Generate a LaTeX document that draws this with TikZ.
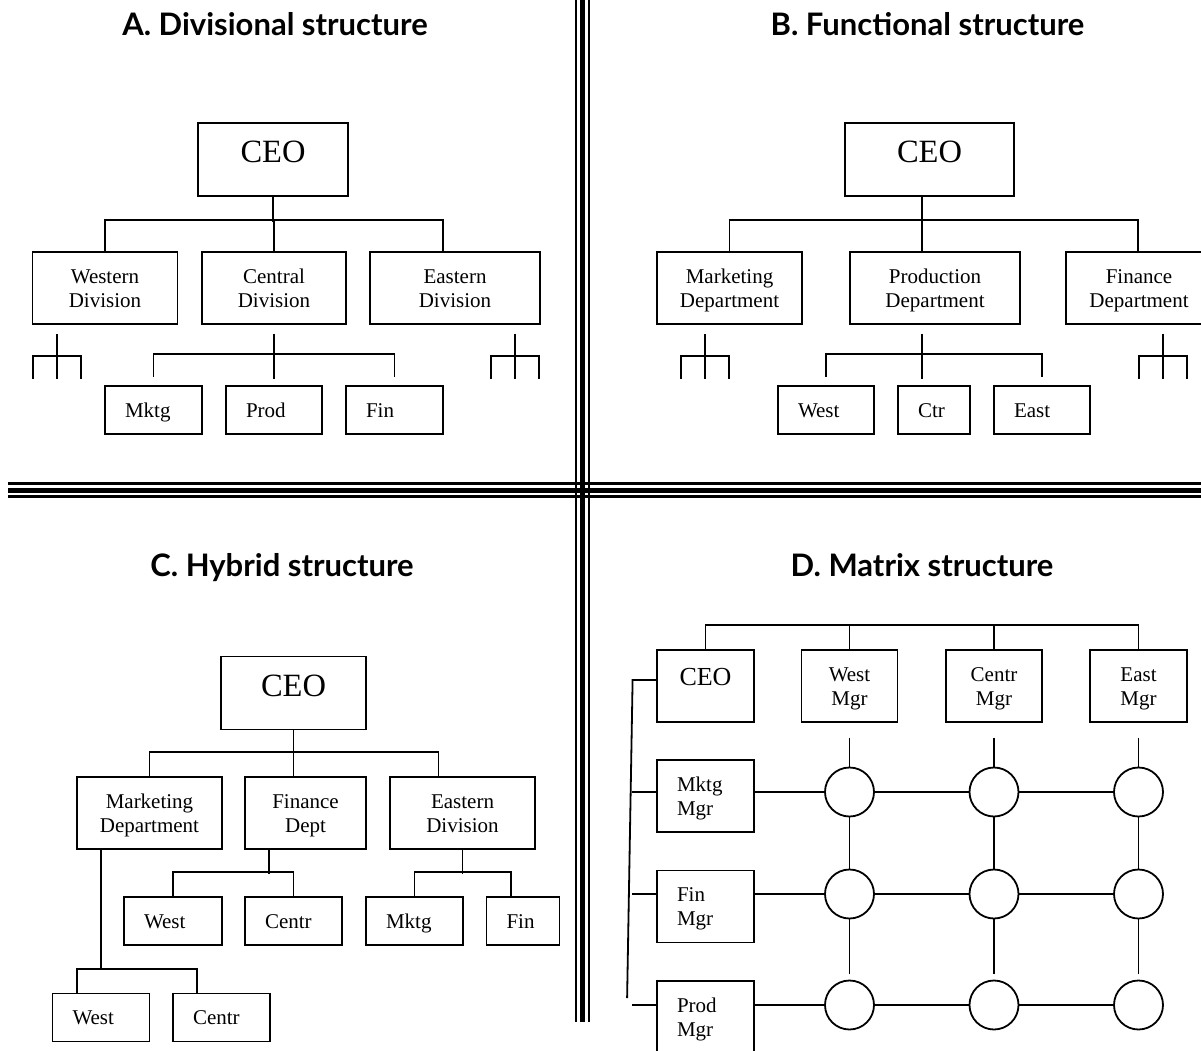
\documentclass[tikz,border=0pt]{standalone}
\usepackage{fontspec}
\setmainfont{Liberation Serif}
\newfontfamily\titlefont{Lato}
\usetikzlibrary{calc}

% small fork with free ends under a box: #1 is the top of its stub
\def\freefork#1{\draw #1 -- ++(0,45) ++(-24,0) -- ++(0,-23) -- ++(48,0) -- ++(0,23);}

\tikzset{
  box/.style={draw, inner sep=0pt, align=center, minimum height=72pt,
    text height=38pt, text depth=0pt, font=\fontsize{21}{24}\selectfont},
  ceobox/.style={box, minimum height=73pt, text height=21.5pt, text depth=15pt,
    font=\fontsize{32.5}{36}\selectfont},
  leafbox/.style={box, minimum height=48pt, inner xsep=20pt, text width=#1,
    align=left, text height=14pt, text depth=0pt},
  rowbox/.style={box, inner xsep=20pt, text width=#1, align=left,
    text height=14pt, text depth=24pt},
  hub/.style={draw, circle, minimum size=49pt, inner sep=0pt},
  heading/.style={font=\titlefont\bfseries\fontsize{31}{36}\selectfont,
    text height=22pt, text depth=0pt},
  thinrule/.style={line width=2.3pt},
  thickrule/.style={line width=5pt},
}

\begin{document}
\begin{tikzpicture}[x=1pt, y=-1pt, line width=1.8pt]
  \useasboundingbox (0,0) rectangle (1201,1051);

  %%%%% separators %%%%%
  \draw[thinrule] (576.2,0) -- (576.2,1022);
  \draw[thickrule] (582.5,0) -- (582.5,1022);
  \draw[thinrule] (588.8,0) -- (588.8,1022);
  \draw[thinrule] (8,483.5) -- (1201,483.5);
  \draw[thickrule] (8,490) -- (1201,490);
  \draw[thinrule] (8,496.5) -- (1201,496.5);

  %%%%% headings %%%%%
  \node[heading] (titleA) at (275,24.5) {A. Divisional structure};
  \node[heading] (titleB) at (927.5,24.5) {B. Functional structure};
  \node[heading] (titleC) at (282,565.5) {C. Hybrid structure};
  \node[heading] (titleD) at (922,565.5) {D. Matrix structure};

  %%%%% A. divisional %%%%%
  \node[ceobox, minimum width=150pt] (ceoA) at (273,159.5) {CEO};
  \node[box, minimum width=145pt] (westA) at (105,288) {Western\\Division};
  \node[box, minimum width=144pt] (centA) at (274,288) {Central\\Division};
  \node[box, minimum width=170pt] (eastA) at (455,288) {Eastern\\Division};
  \draw (ceoA.south) -- ++(0,25);
  \draw (westA.north) -- ++(0,-31) -| ($(eastA.north)+(-12,0)$);
  \draw (centA.north) -- ++(0,-31);

  \freefork{($(westA.south)+(-48,9)$)}
  \freefork{($(eastA.south)+(60,9)$)}

  \node[leafbox=57pt] (mktgA) at (153.5,410) {Mktg};
  \node[leafbox=56pt] (prodA) at (274,410) {Prod};
  \node[leafbox=57pt] (finA) at (394.5,410) {Fin};
  \draw ($(centA.south)+(0,9)$) -- ++(0,45);
  \draw ($(mktgA.north)+(0,-8)$) |- ($(finA.north)+(0,-31)$) -- ++(0,23);

  %%%%% B. functional %%%%%
  \node[ceobox, minimum width=169pt] (ceoB) at (929.5,159.5) {CEO};
  \node[box, minimum width=145pt] (markB) at (729.5,288) {Marketing\\Department};
  \node[box, minimum width=170pt] (prodB) at (935,288) {Production\\Department};
  \node[box, minimum width=146pt] (finB) at (1139,288) {Finance\\Department};
  \draw ($(ceoB.south)+(-7.5,0)$) -- ++(0,25);
  \draw (markB.north) -- ++(0,-31) -| ($(finB.north)+(-1,0)$);
  \draw ($(prodB.north)+(-13,0)$) -- ++(0,-31);

  \freefork{($(markB.south)+(-24.5,9)$)}
  \freefork{($(finB.south)+(24,9)$)}

  \node[leafbox=56pt] (westB) at (826,410) {West};
  \node[leafbox=32pt] (ctrB) at (934,410) {Ctr};
  \node[leafbox=56pt] (eastB) at (1042,410) {East};
  \draw ($(prodB.south)+(-13,9)$) -- ++(0,45);
  \draw ($(westB.north)+(0,-8)$) |- ($(eastB.north)+(0,-31)$) -- ++(0,23);

  %%%%% C. hybrid %%%%%
  \node[ceobox, minimum width=145pt] (ceoC) at (293.5,693) {CEO};
  \node[box, minimum width=145pt] (markC) at (149.5,813) {Marketing\\Department};
  \node[box, minimum width=121pt] (finC) at (305.5,813) {Finance\\Dept};
  \node[box, minimum width=145pt] (eastC) at (462.5,813) {Eastern\\Division};
  \draw (ceoC.south) -- ++(0,24);
  \draw (markC.north) -- ++(0,-24) -| ($(eastC.north)+(-24,0)$);
  \draw ($(finC.north)+(-12,0)$) -- ++(0,-24);

  \node[leafbox=58pt] (westC) at (173,921) {West};
  \node[leafbox=57pt] (centrC) at (293.5,921) {Centr};
  \draw ($(finC.south)+(-36.5,0)$) -- ++(0,24);
  \draw (westC.north) |- ($(centrC.north)+(0,-24)$) -- (centrC.north);

  \node[leafbox=57pt] (mktgC) at (414.5,921) {Mktg};
  \node[leafbox=33pt] (finCc) at (523,921) {Fin};
  \draw (eastC.south) -- ++(0,24);
  \draw (mktgC.north) |- ($(finCc.north)+(-12,-24)$) -- ++(0,24);

  \node[leafbox=57pt] (westCc) at (101,1017.5) {West};
  \node[leafbox=57pt] (centrCc) at (221.5,1017.5) {Centr};
  \draw ($(markC.south)+(-48.5,0)$) -- ++(0,120);
  \draw ($(westCc.north)+(-24,0)$) |- ($(centrCc.north)+(-24.5,-24)$) -- ++(0,24);

  %%%%% D. matrix %%%%%
  \node[ceobox, minimum width=97pt, minimum height=72pt, text height=17pt,
    text depth=18pt, font=\fontsize{26}{30}\selectfont] (ceoD) at (705.5,686) {CEO};
  \node[box, minimum width=96pt] (wmD) at (849.5,686) {West\\Mgr};
  \node[box, minimum width=96pt] (cmD) at (994,686) {Centr\\Mgr};
  \node[box, minimum width=97pt] (emD) at (1138.5,686) {East\\Mgr};
  \draw (ceoD.north) -- ++(0,-24) -| (emD.north);
  \draw (wmD.north) -- ++(0,-24);
  \draw (cmD.north) -- ++(0,-24);

  \node[rowbox=57pt] (mkmD) at (705.5,796) {Mktg\\Mgr};
  \node[rowbox=57pt] (fimD) at (705.5,906.5) {Fin\\Mgr};
  \node[rowbox=57pt] (prmD) at (705.5,1017) {Prod\\Mgr};

  \foreach \c/\x in {w/849.5, c/994, e/1138.5}
    \foreach \r/\y in {m/792, f/894, p/1005}
      \node[hub] (h\c\r) at (\x,\y) {};

  \foreach \c/\m in {w/wmD, c/cmD, e/emD} {
    \draw ($(\m.south)+(0,15)$) -- (h\c m.north);
    \draw (h\c m) -- (h\c f);
    \draw (h\c f.south) -- ($(h\c p.north)+(0,-6)$);
  }
  \foreach \r/\b in {m/mkmD, f/fimD, p/prmD} {
    \draw (\b.east |- hw\r) -- (hw\r);
    \draw (hw\r) -- (hc\r);
    \draw (hc\r) -- (he\r);
    \draw (\b.west |- hw\r) -- ++(-24,0);
  }
  \draw ($(ceoD.west)+(0,-6)$) -- ++(-23.5,0) -- ++(-5.5,318);
\end{tikzpicture}
\end{document}
